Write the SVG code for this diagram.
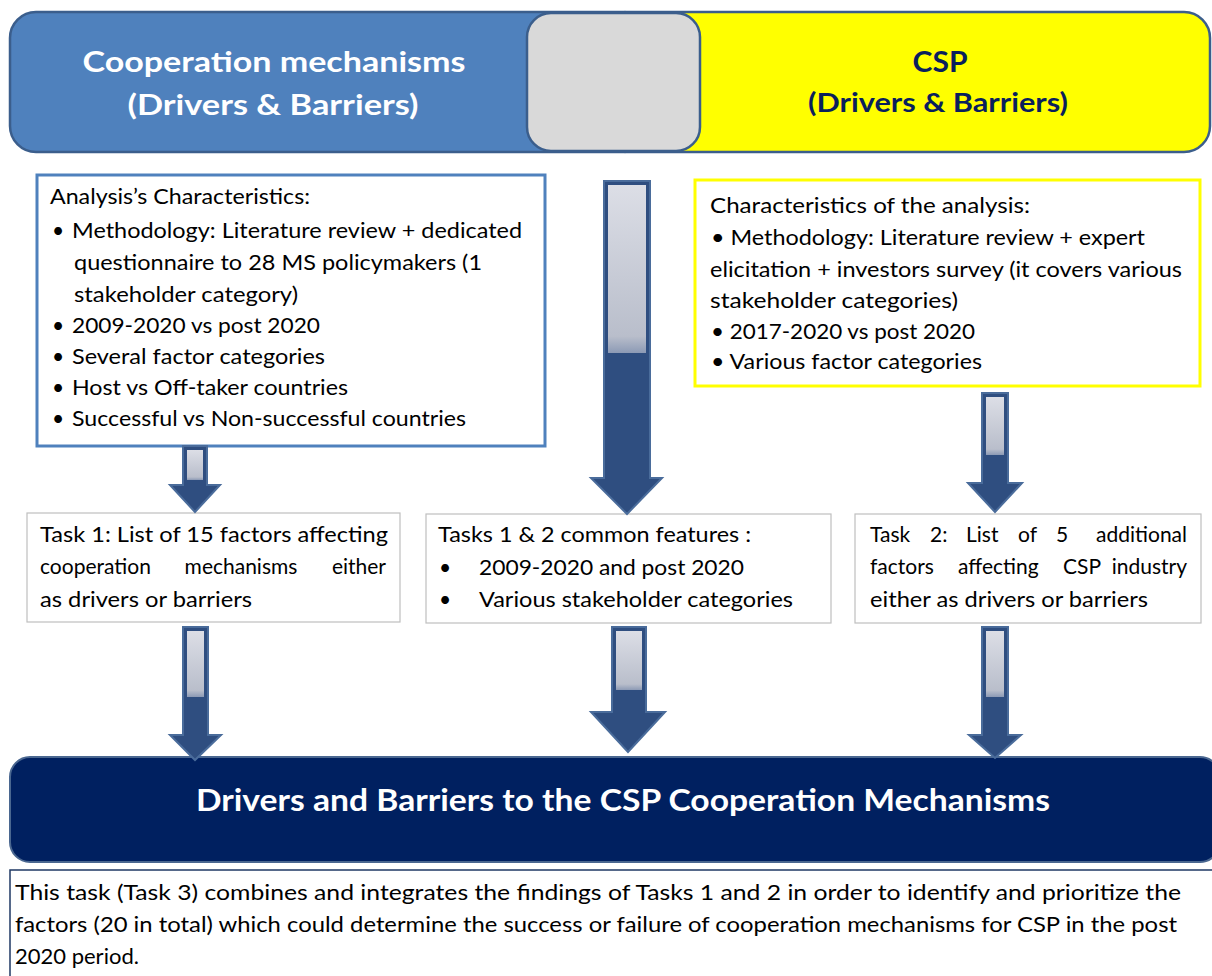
<svg xmlns="http://www.w3.org/2000/svg" width="1212" height="976" viewBox="0 0 1212 976">
<defs>
<linearGradient id="lg" x1="0" y1="0" x2="0" y2="1">
<stop offset="0" stop-color="#DCDEE6"/>
<stop offset="0.9" stop-color="#B9BECB"/>
<stop offset="1" stop-color="#8C9AB5"/>
</linearGradient>
</defs>
<style>
.arr{fill:#2F4E80;stroke:#4A6C9B;stroke-width:2;stroke-linejoin:miter}
.lt{fill:url(#lg)}
.t{font-family:Lato,"Open Sans",sans-serif;fill:#000}
.b22{font-size:21px}
.b21{font-size:21px}
.b20{font-size:22px}
.h{font-family:Lato,"Open Sans",sans-serif;font-weight:bold}
.tb{fill:#fff;stroke:#BFBFBF;stroke-width:1.2}
</style>
<rect width="1212" height="976" fill="#fff"/>

<g id="header">
<rect x="10" y="12" width="640" height="140" rx="26" fill="#4F81BD" stroke="#3B5E8C" stroke-width="2.5"/>
<rect x="600" y="12" width="610" height="140" rx="26" fill="#FFFF00" stroke="#3B5E8C" stroke-width="2.5"/>
<rect x="527" y="13" width="173" height="138" rx="24" fill="#D9D9D9" stroke="#3B5E8C" stroke-width="2.5"/>
<text class="h" x="274" y="72" font-size="29" fill="#fff" text-anchor="middle" textLength="383" lengthAdjust="spacingAndGlyphs">Cooperation mechanisms</text>
<text class="h" x="273" y="115" font-size="29" fill="#fff" text-anchor="middle" textLength="291" lengthAdjust="spacingAndGlyphs">(Drivers &amp; Barriers)</text>
<text class="h" x="940" y="72" font-size="29" fill="#0A1F5C" text-anchor="middle" textLength="55" lengthAdjust="spacingAndGlyphs">CSP</text>
<text class="h" x="938" y="112" font-size="26" fill="#0A1F5C" text-anchor="middle" textLength="260" lengthAdjust="spacingAndGlyphs">(Drivers &amp; Barriers)</text>
</g>

<g id="left-analysis">
<rect x="37" y="175" width="508" height="271" fill="#fff" stroke="#4F81BD" stroke-width="3"/>
<g class="t b22">
<text x="50" y="204" textLength="260" lengthAdjust="spacingAndGlyphs">Analysis’s Characteristics:</text>
<text x="52" y="238">•</text>
<text x="72" y="238" textLength="450" lengthAdjust="spacingAndGlyphs">Methodology: Literature review + dedicated</text>
<text x="74" y="270" textLength="408" lengthAdjust="spacingAndGlyphs">questionnaire to 28 MS policymakers (1</text>
<text x="74" y="302" textLength="224" lengthAdjust="spacingAndGlyphs">stakeholder category)</text>
<text x="52" y="333">•</text>
<text x="72" y="333" textLength="248" lengthAdjust="spacingAndGlyphs">2009-2020 vs post 2020</text>
<text x="52" y="364">•</text>
<text x="72" y="364" textLength="253" lengthAdjust="spacingAndGlyphs">Several factor categories</text>
<text x="52" y="395">•</text>
<text x="72" y="395" textLength="276" lengthAdjust="spacingAndGlyphs">Host vs Off-taker countries</text>
<text x="52" y="426">•</text>
<text x="72" y="426" textLength="394" lengthAdjust="spacingAndGlyphs">Successful vs Non-successful countries</text>
</g>
</g>

<g id="right-analysis">
<rect x="695" y="180" width="505" height="206" fill="#fff" stroke="#FFFF00" stroke-width="3"/>
<g class="t b22">
<text x="710" y="213" textLength="320" lengthAdjust="spacingAndGlyphs">Characteristics of the analysis:</text>
<text x="711" y="245" textLength="434" lengthAdjust="spacingAndGlyphs">• Methodology: Literature review + expert</text>
<text x="710" y="277" textLength="472" lengthAdjust="spacingAndGlyphs">elicitation + investors survey (it covers various</text>
<text x="710" y="308" textLength="248" lengthAdjust="spacingAndGlyphs">stakeholder categories)</text>
<text x="711" y="339" textLength="264" lengthAdjust="spacingAndGlyphs">• 2017-2020 vs post 2020</text>
<text x="711" y="369" textLength="271" lengthAdjust="spacingAndGlyphs">• Various factor categories</text>
</g>
</g>

<g id="task1">
<rect class="tb" x="27" y="513" width="373" height="109"/>
<g class="t b21">
<text x="40" y="542" textLength="348" lengthAdjust="spacingAndGlyphs">Task 1: List of 15 factors affecting</text>
<text x="40" y="574">cooperation</text>
<text x="241" y="574" text-anchor="middle">mechanisms</text>
<text x="386" y="574" text-anchor="end">either</text>
<text x="40" y="607" textLength="212" lengthAdjust="spacingAndGlyphs">as drivers or barriers</text>
</g>
</g>

<g id="common">
<rect class="tb" x="426" y="514" width="405" height="109"/>
<g class="t b21">
<text x="438" y="542" textLength="313" lengthAdjust="spacingAndGlyphs">Tasks 1 &amp; 2 common features :</text>
<text x="439" y="575">•</text>
<text x="479" y="575" textLength="265" lengthAdjust="spacingAndGlyphs">2009-2020 and post 2020</text>
<text x="439" y="607">•</text>
<text x="479" y="607" textLength="314" lengthAdjust="spacingAndGlyphs">Various stakeholder categories</text>
</g>
</g>

<g id="task2">
<rect class="tb" x="855" y="514" width="346" height="109"/>
<g class="t b21">
<text x="870" y="542">Task</text>
<text x="930" y="542">2:</text>
<text x="966" y="542">List</text>
<text x="1018" y="542">of</text>
<text x="1056" y="542">5</text>
<text x="1187" y="542" text-anchor="end">additional</text>
<text x="870" y="574">factors</text>
<text x="958" y="574">affecting</text>
<text x="1063" y="574">CSP</text>
<text x="1187" y="574" text-anchor="end">industry</text>
<text x="870" y="607" textLength="278" lengthAdjust="spacingAndGlyphs">either as drivers or barriers</text>
</g>
</g>

<g id="result">
<rect x="10" y="757" width="1210" height="105" rx="20" fill="#002060" stroke="#4A6790" stroke-width="2"/>
<text class="h" x="623" y="811" font-size="30" fill="#fff" text-anchor="middle" textLength="854" lengthAdjust="spacingAndGlyphs">Drivers and Barriers to the CSP Cooperation Mechanisms</text>
</g>

<g id="note">
<rect x="10" y="870" width="1210" height="110" fill="#fff" stroke="#1F3864" stroke-width="1.5"/>
<g class="t b20">
<text x="15" y="900" textLength="1166" lengthAdjust="spacingAndGlyphs">This task (Task 3) combines and integrates the findings of Tasks 1 and 2 in order to identify and prioritize the</text>
<text x="15" y="932" textLength="1162" lengthAdjust="spacingAndGlyphs">factors (20 in total) which could determine the success or failure of cooperation mechanisms for CSP in the post</text>
<text x="15" y="964">2020 period.</text>
</g>
</g>

<g id="connectors">
<path class="arr" d="M604,181 H650 V478 H662 L627,514 L591,478 H604 Z"/>
<rect class="lt" x="608" y="185" width="38" height="168"/>
<path class="arr" d="M183,446 H207 V485 H220 L195,512 L170,485 H183 Z"/>
<rect class="lt" x="187" y="450" width="16" height="30"/>
<path class="arr" d="M982,393 H1008 V483 H1022 L995,512 L968,483 H982 Z"/>
<rect class="lt" x="986" y="397" width="18" height="58"/>
<path class="arr" d="M183,627 H208 V735 H221 L195,760 L170,735 H183 Z"/>
<rect class="lt" x="187" y="631" width="17" height="66"/>
<path class="arr" d="M612,627 H646 V712 H665 L628,752 L591,712 H612 Z"/>
<rect class="lt" x="616" y="631" width="26" height="59"/>
<path class="arr" d="M982,627 H1008 V735 H1021 L995,758 L969,735 H982 Z"/>
<rect class="lt" x="986" y="631" width="18" height="66"/>
</g>
</svg>
